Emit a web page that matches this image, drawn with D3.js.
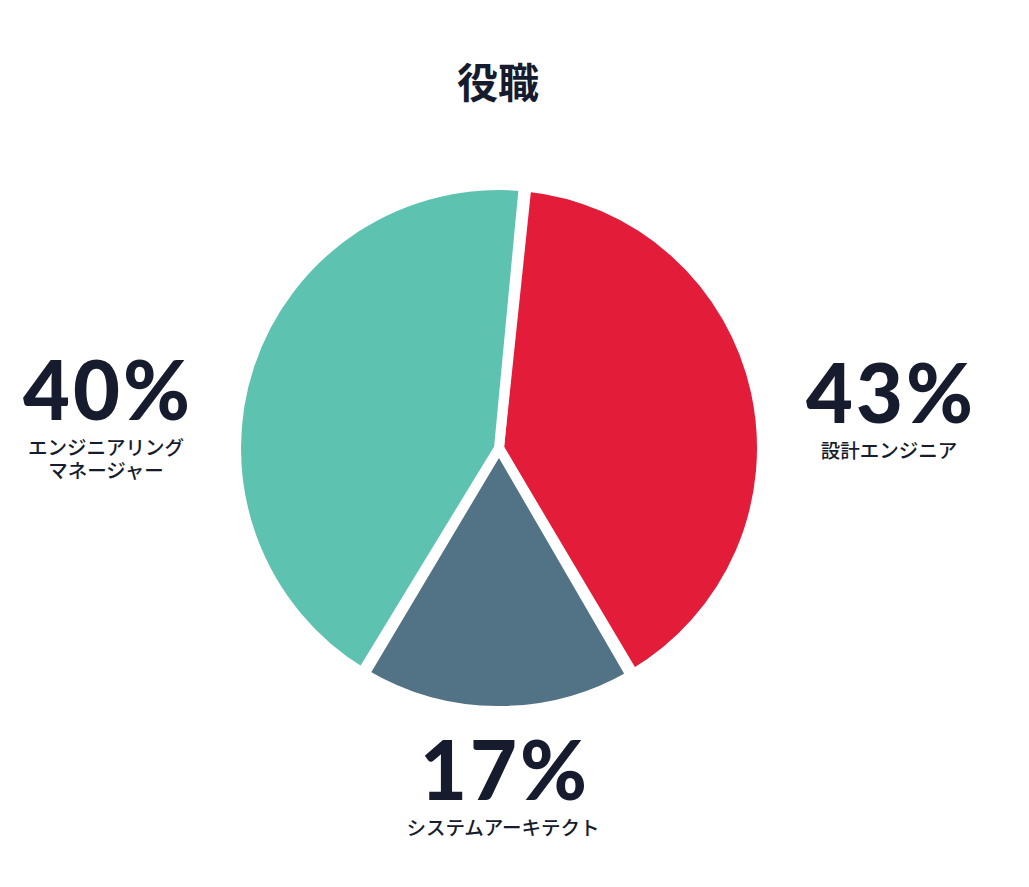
<!DOCTYPE html>
<html>
<head>
<meta charset="utf-8">
<script src="https://cdn.jsdelivr.net/npm/d3@7"></script>
<style>
  body { margin: 0; background: #fff; }
  text { fill: #161c2e; }
</style>
</head>
<body>
<div id="chart"></div>
<script>
// slices clockwise from the top: 設計 (red), アーキテクト (gray), マネージャー (teal)
const sliceKeys = ['design', 'architect', 'manager'];
const sliceShares = [40, 17, 43];
const sliceColors = ['#e31c3a', '#527385', '#5dc2af'];

// printed labels as they appear on the chart
const labelPcts = ['43%', '17%', '40%'];
const labelNames = [['設計エンジニア'], ['システムアーキテクト'], ['エンジニアリング', 'マネージャー']];

const title = '役職';

let width = 1029,
  height = 887;

let svg = d3
  .select('#chart')
  .append('svg')
  .attr('width', width)
  .attr('height', height);

// title
svg.append('text')
  .attr('x', 498)
  .attr('y', 98)
  .attr('text-anchor', 'middle')
  .style('font-family', "'Noto Sans CJK JP', sans-serif")
  .style('font-weight', 700)
  .style('font-size', '41px')
  .text(title);

// pie, white stroke makes the gaps
let cx = 499, cy = 448, r = 258, gap = 10;

let pie = d3.pie()
  .sort(null)
  .startAngle(5.7 * Math.PI / 180)
  .endAngle(5.7 * Math.PI / 180 + 2 * Math.PI)
  .padAngle(0.01);

let arc = d3.arc().innerRadius(0).outerRadius(r + gap / 2);

let g = svg.append('g').attr('transform', `translate(${cx},${cy})`);

g.selectAll('path')
  .data(pie(sliceShares))
  .enter()
  .append('path')
  .attr('d', arc)
  .attr('fill', (d, i) => sliceColors[i])
  .attr('stroke', '#fff')
  .attr('stroke-width', gap)
  .attr('stroke-linejoin', 'miter');

// labels: right, bottom, left
const labelPos = [[889, 423], [503, 800], [106, 420]];

labelPcts.forEach((p, i) => {
  let lg = svg.append('g').attr('transform', `translate(${labelPos[i][0]},${labelPos[i][1]})`);
  lg.append('text')
    .attr('text-anchor', 'middle')
    .attr('x', 2)
    .style('font-family', "Lato, 'Noto Sans', sans-serif")
    .style('font-weight', 900)
    .style('font-size', '81px')
    .style('letter-spacing', '3px')
    .text(p);
  labelNames[i].forEach((line, j) => {
    lg.append('text')
      .attr('text-anchor', 'middle')
      .attr('y', 35 + j * 23)
      .style('font-family', "'Noto Sans CJK JP', sans-serif")
      .style('font-weight', 500)
      .style('font-size', '19.5px')
      .text(line);
  });
});
</script>
</body>
</html>
